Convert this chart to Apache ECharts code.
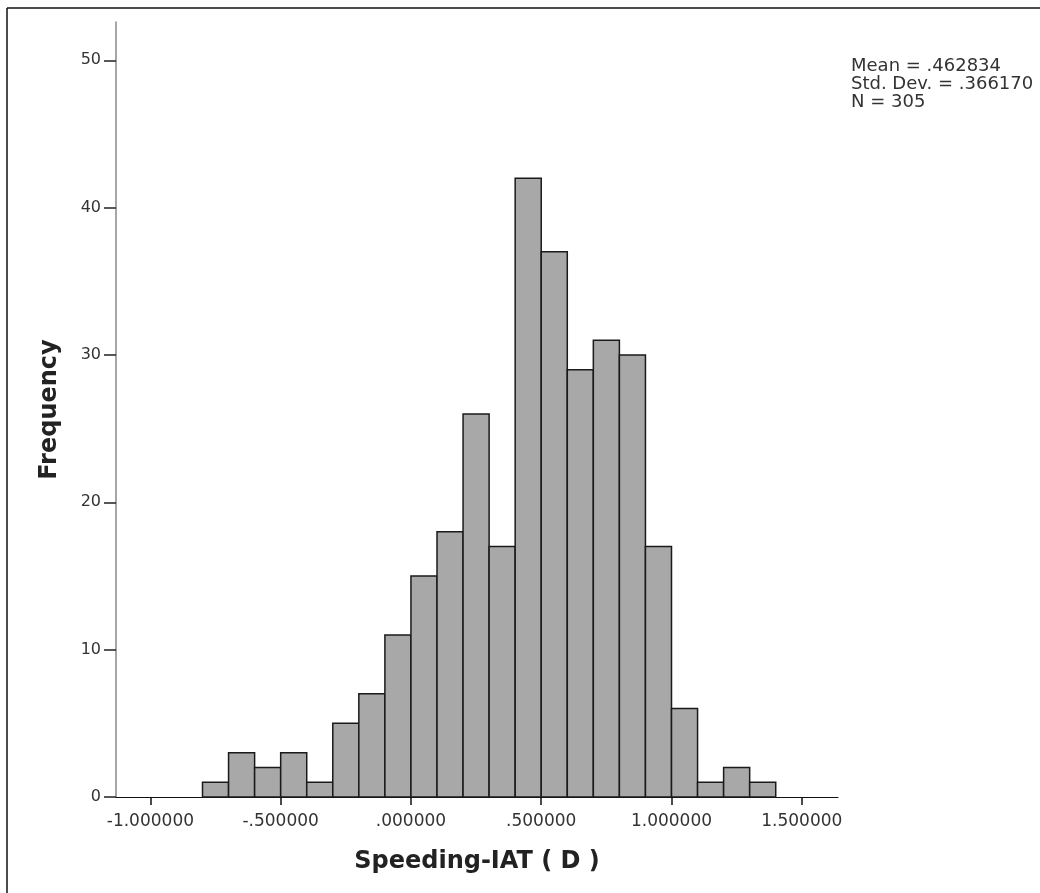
<!DOCTYPE html>
<html>
<head>
<meta charset="utf-8">
<script src="https://cdn.jsdelivr.net/npm/echarts@6.0.0/dist/echarts.min.js"></script>
<style>
  html, body { margin: 0; padding: 0; background: #fff; }
  #main { width: 1040px; height: 893px; }
</style>
</head>
<body>
<div id="main"></div>
<script>
// histogram bins: lower edge of each bin, width 0.1
var binStarts = [-0.8, -0.7, -0.6, -0.5, -0.4, -0.3, -0.2, -0.1, 0.0, 0.1, 0.2,
                 0.3, 0.4, 0.5, 0.6, 0.7, 0.8, 0.9, 1.0, 1.1, 1.2, 1.3];
var counts = [1, 3, 2, 3, 1, 5, 7, 11, 15, 18, 26,
              17, 42, 37, 29, 31, 30, 17, 6, 1, 2, 1];
var binWidth = 0.1;
var xTicks = [-1.0, -0.5, 0.0, 0.5, 1.0, 1.5];
var yTicks = [0, 10, 20, 30, 40, 50];
var stats = ['Mean = .462834', 'Std. Dev. = .366170', 'N = 305'];

var fmtX = function (v) {
    var s = Math.abs(v).toFixed(6).replace(/^0\./, '.');
    return (v < 0 ? '-' : '') + s;
};

var data = binStarts.map(function (s, i) {
    return [s, s + binWidth, counts[i]];
});

var chart = echarts.init(document.getElementById('main'));
var font = 'DejaVu Sans';

var option = {
    backgroundColor: '#fff',
    animation: false,
    grid: { left: 116, right: 202, top: 22, bottom: 96 },
    xAxis: {
        type: 'value',
        min: -1.132,
        max: 1.639,
        name: 'Speeding-IAT ( D )',
        nameLocation: 'middle',
        nameGap: 53,
        nameMoveOverlap: false,
        nameTextStyle: { fontFamily: font, fontSize: 24, fontWeight: 'bold', color: '#222' },
        axisLine: { onZero: false, lineStyle: { color: '#111', width: 1.2 } },
        axisTick: { customValues: xTicks, length: 8, lineStyle: { color: '#111', width: 1.5 } },
        axisLabel: {
            customValues: xTicks,
            formatter: fmtX,
            fontFamily: font, fontSize: 17, color: '#333', margin: 16
        },
        splitLine: { show: false }
    },
    yAxis: {
        type: 'value',
        min: 0,
        max: 52.6,
        name: 'Frequency',
        nameLocation: 'middle',
        nameGap: 54,
        nameMoveOverlap: false,
        nameRotate: 90,
        nameTextStyle: { fontFamily: font, fontSize: 24, fontWeight: 'bold', color: '#222' },
        axisLine: { show: true, onZero: false, lineStyle: { color: '#888', width: 1.5 } },
        axisTick: { show: true, customValues: yTicks, length: 12, lineStyle: { color: '#222', width: 1.5 } },
        axisLabel: {
            customValues: yTicks,
            fontFamily: font, fontSize: 16, color: '#333', margin: 15
        },
        splitLine: { show: false }
    },
    graphic: [
        { type: 'line', shape: { x1: 7, y1: 8, x2: 1040, y2: 8 }, style: { stroke: '#111', lineWidth: 1.5 } },
        { type: 'line', shape: { x1: 7, y1: 8, x2: 7, y2: 893 }, style: { stroke: '#111', lineWidth: 1.5 } },
        {
            type: 'text', left: 851, top: 57,
            style: { text: stats.join('\n'), font: '18px DejaVu Sans', fill: '#333', lineHeight: 18 }
        }
    ],
    series: [{
        type: 'custom',
        data: data,
        encode: { x: [0, 1], y: 2 },
        renderItem: function (params, api) {
            var p0 = api.coord([api.value(0), api.value(2)]);
            var p1 = api.coord([api.value(1), 0]);
            return {
                type: 'rect',
                shape: { x: p0[0], y: p0[1], width: p1[0] - p0[0], height: p1[1] - p0[1] },
                style: { fill: '#a8a8a8', stroke: '#1a1a1a', lineWidth: 1.5 }
            };
        }
    }]
};

chart.setOption(option);
</script>
</body>
</html>
